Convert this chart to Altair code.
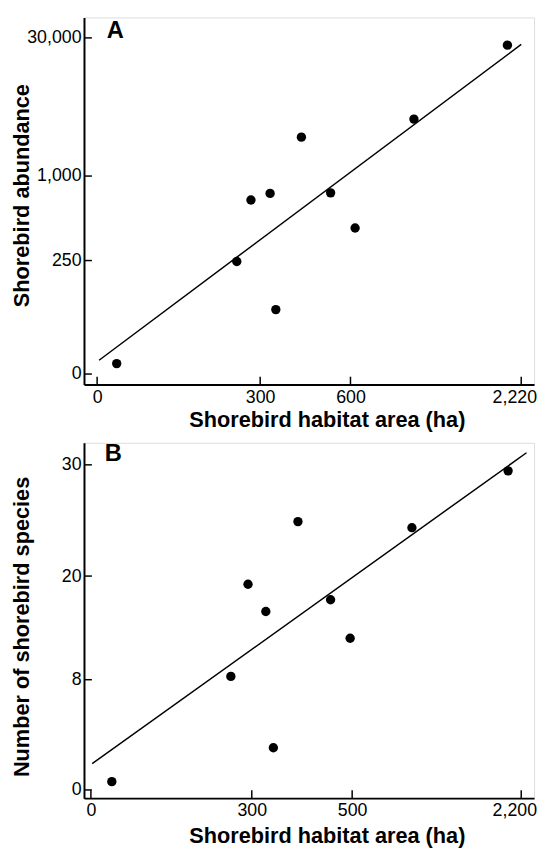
import altair as alt
import pandas as pd

FONT = "Liberation Sans"

# ---------------- Panel A ----------------
a_area = [36, 257, 283, 333, 352, 437, 534, 644, 1202, 2089]
a_abund = [23, 248, 787, 846, 142, 9160, 851, 539, 12950, 28480]
a_fit_area = [3.6, 2220]
a_fit_abund = [30.4, 28630]
a_xticks = [0, 300, 600, 2220]
a_yticks = [0, 250, 1000, 30000]

# ---------------- Panel B ----------------
b_area = [39, 261, 293, 328, 343, 392, 457, 496, 1101, 2068]
b_species = [0.6, 8.38, 19.05, 15.9, 3.06, 24.9, 17.26, 12.8, 24.35, 29.46]
b_fit_area = [2.4, 2253]
b_fit_species = [1.91, 31.09]
b_xticks = [0, 300, 500, 2200]
b_yticks = [0, 8, 20, 30]

W = 456
A_H = 372
B_H = 360

# piecewise (non-linear) axis scales, as in the original figure
a_xscale = alt.Scale(domain=[-24.2, 0, 300, 600, 2220, 2341.7],
                     range=[0, 13.3, 178.5, 270, 443, W], nice=False, zero=False)
a_yscale = alt.Scale(domain=[-23.3, 0, 250, 1000, 30000, 34287],
                     range=[A_H, 361.3, 246.3, 160.7, 20.7, 0], nice=False, zero=False)
b_xscale = alt.Scale(domain=[-12.9, 0, 300, 500, 2200, 2329],
                     range=[0, 7, 170, 271.7, 443, W], nice=False, zero=False)
b_yscale = alt.Scale(domain=[-0.59, 0, 8, 20, 30, 31.98],
                     range=[B_H, 351.7, 240, 135, 22.3, 0], nice=False, zero=False)

common = dict(ticks=False, tickSize=0, grid=False, domainColor="black", domainWidth=2,
              labelFont=FONT, labelFontSize=18, labelColor="black",
              labelFlush=False, labelOverlap=False,
              labelExpr="format(datum.value, ',')",
              titleFont=FONT, titleFontSize=22, titleFontWeight="bold", titleColor="black",
              titleBaseline="alphabetic")

last_shift = {"condition": {"test": "datum.value > 2000", "value": -7}, "value": 0}

ax_a_x = alt.Axis(title="Shorebird habitat area (ha)", values=a_xticks,
                  labelPadding=4, titleX=246, titleY=42, labelOffset=last_shift, **common)
ax_a_y = alt.Axis(title="Shorebird abundance", values=a_yticks,
                  labelPadding=3, titleX=-56, titleY=180, titleAngle=270, **common)
ax_b_x = alt.Axis(title="Shorebird habitat area (ha)", values=b_xticks,
                  labelPadding=4, titleX=246, titleY=45, labelOffset=last_shift, **common)
ax_b_y = alt.Axis(title="Number of shorebird species", values=b_yticks,
                  labelPadding=3, titleX=-56, titleY=186, titleAngle=270, **common)


def panel(area, yvals, fit_x, fit_y, xticks, yticks, xscale, yscale, axx, axy, H, letter, lx, ly):
    pts = pd.DataFrame({"x": area, "y": yvals})
    fit = pd.DataFrame({"x": fit_x, "y": fit_y})
    xt = pd.DataFrame({"x": xticks})
    yt = pd.DataFrame({"y": yticks})
    X = alt.X("x:Q", scale=xscale, axis=axx)
    Y = alt.Y("y:Q", scale=yscale, axis=axy)
    line = alt.Chart(fit).mark_line(color="black", strokeWidth=1.5).encode(x=X, y=Y)
    dots = alt.Chart(pts).mark_circle(size=90, color="black", opacity=1).encode(x=X, y=Y)
    # inward tick marks
    xtick = alt.Chart(xt).mark_rule(color="black", strokeWidth=1.5).encode(
        x=X, y=alt.value(H), y2=alt.value(H - 8))
    ytick = alt.Chart(yt).mark_rule(color="black", strokeWidth=1.5).encode(
        y=Y, x=alt.value(0), x2=alt.value(8))
    lab = alt.Chart(pd.DataFrame({"t": [letter]})).mark_text(
        font=FONT, fontSize=24, fontWeight="bold", align="left", baseline="alphabetic",
        color="black").encode(text="t:N", x=alt.value(lx), y=alt.value(ly))
    return alt.layer(line, dots, xtick, ytick, lab).properties(width=W, height=H)


pa = panel(a_area, a_abund, a_fit_area, a_fit_abund, a_xticks, a_yticks,
           a_xscale, a_yscale, ax_a_x, ax_a_y, A_H, "A", 23, 21)
pb = panel(b_area, b_species, b_fit_area, b_fit_species, b_xticks, b_yticks,
           b_xscale, b_yscale, ax_b_x, ax_b_y, B_H, "B", 21, 18)

chart = alt.vconcat(pa, pb, spacing=10).properties(
    padding={"left": 2, "top": 3, "right": 0, "bottom": 0}
).configure_view(stroke=None).configure(background="white")

chart.save("out.html", embed_options={"renderer": "svg", "actions": False})
